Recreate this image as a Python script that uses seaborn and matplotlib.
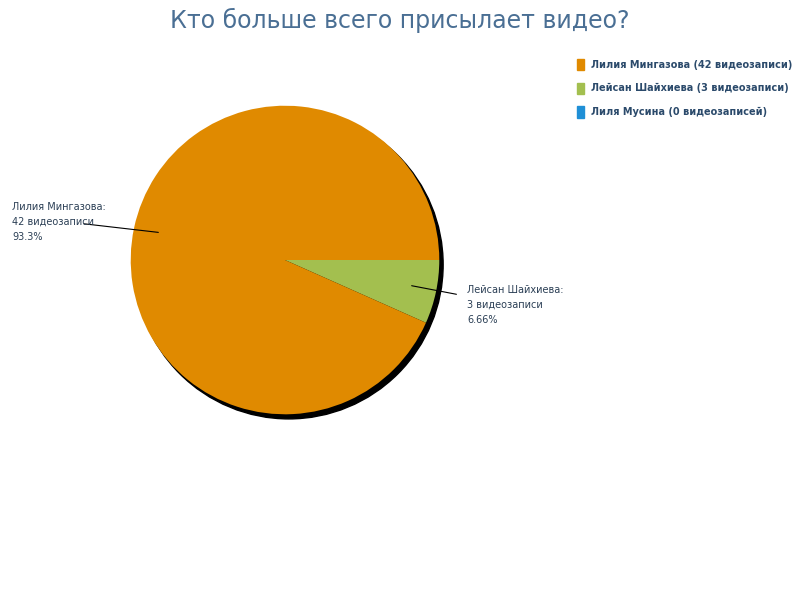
import matplotlib.pyplot as plt
import seaborn as sns
from matplotlib.patches import Circle, Patch

sns.set_style('white')
plt.rcParams['font.family'] = ['DejaVu Sans']

names = ['Лилия Мингазова', 'Лейсан Шайхиева', 'Лиля Мусина']
counts = [42, 3, 0]
legend_labels = ['Лилия Мингазова (42 видеозаписи)',
                 'Лейсан Шайхиева (3 видеозаписи)',
                 'Лиля Мусина (0 видеозаписей)']
slice_labels = ['Лилия Мингазова:\n42 видеозаписи\n93.3%',
                'Лейсан Шайхиева:\n3 видеозаписи\n6.66%']
colors = ['#e08a00', '#a3bf4f', '#1f8fd6']

fig = plt.figure(figsize=(8, 6), dpi=100)
fig.patch.set_facecolor('white')

cx, cy, r = 285, 260, 162
ax = fig.add_axes([(cx - r) / 800, 1 - (cy + r) / 600, 2 * r / 800, 2 * r / 600])
ax.set_xlim(-1.05, 1.05)
ax.set_ylim(-1.05, 1.05)
ax.axis('off')

def px(x, y):
    return (x - cx) / r * 1.0, (cy - y) / r * 1.0

# shadow
ax.add_patch(Circle((0.025, -0.03), 1.0, color='black', zorder=0))
# green first, drawn clockwise from 3 o'clock
order = [1, 0, 2]
ax.pie([counts[i] for i in order], colors=[colors[i] for i in order],
       startangle=0, counterclock=False, radius=1.0,
       wedgeprops=dict(linewidth=0), normalize=True)
ax.set_xlim(-1.05, 1.05)
ax.set_ylim(-1.05, 1.05)

# leader lines
for (x0, y0), (x1, y1) in [((74, 222), (152, 231)), ((418, 287), (465, 296))]:
    a, b = px(x0, y0), px(x1, y1)
    ax.plot([a[0], b[0]], [a[1], b[1]], color='black', lw=0.8, clip_on=False)

fig.text(12 / 800, 1 - 202 / 600, slice_labels[0], fontsize=7, color='#2b3f55',
         va='top', linespacing=1.6)
fig.text(467 / 800, 1 - 285 / 600, slice_labels[1], fontsize=7, color='#2b3f55',
         va='top', linespacing=1.6)

fig.text(400 / 800, 1 - 20 / 600, 'Кто больше всего присылает видео?',
         fontsize=17, color='#4a6f94', ha='center', va='center')

handles = [Patch(color=c) for c in colors]
leg = fig.legend(handles, legend_labels, loc='upper left',
                 bbox_to_anchor=(568 / 800, 1 - 50 / 600), frameon=False,
                 prop=dict(size=7, weight='bold'), handlelength=0.7,
                 handleheight=1.4, labelspacing=1.3, handletextpad=0.8)
for t in leg.get_texts():
    t.set_color('#2b4a6b')

fig.savefig('out.png', dpi=100, facecolor='white')
